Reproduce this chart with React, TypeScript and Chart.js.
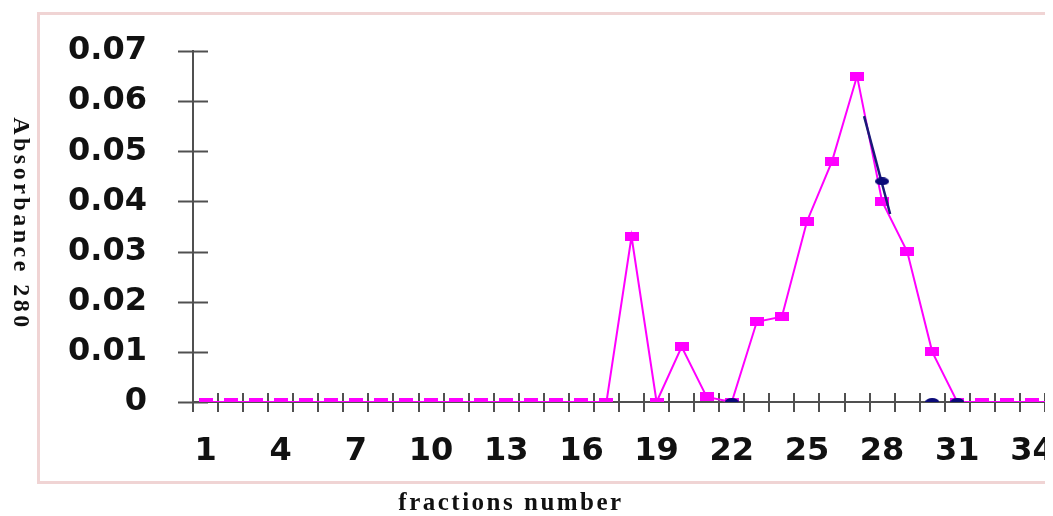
import React, { useEffect, useRef } from "react";
import { Chart, registerables } from "chart.js";

Chart.register(...registerables);

const fractions = [1, 2, 3, 4, 5, 6, 7, 8, 9, 10, 11, 12, 13, 14, 15, 16, 17, 18, 19, 20, 21, 22, 23, 24, 25, 26, 27, 28, 29, 30, 31, 32, 33, 34, 35];
const absorbance = [0, 0, 0, 0, 0, 0, 0, 0, 0, 0, 0, 0, 0, 0, 0, 0, 0, 0.033, 0, 0.011, 0.001, 0, 0.016, 0.017, 0.036, 0.048, 0.065, 0.04, 0.03, 0.01, 0, 0, 0, 0, 0];

const blueMarkerFractions = [22, 28, 30, 31];
const blueMarkerValues = [0, 0.044, 0, 0];
const blueSegmentFractions = [27.28, 28.32];
const blueSegmentValues = [0.057, 0.0375];

const xTickLabels = [1, 4, 7, 10, 13, 16, 19, 22, 25, 28, 31, 34];
const yTickValues = [0, 0.01, 0.02, 0.03, 0.04, 0.05, 0.06, 0.07];

const xTitle = "fractions number";
const yTitle = "Absorbance 280";

const AXIS_COLOR = "#505050";

function makeRect(w: number, h: number, color: string) {
  const c = document.createElement("canvas");
  c.width = w;
  c.height = h;
  const g = c.getContext("2d")!;
  g.fillStyle = color;
  g.fillRect(0, 0, w, h);
  return c;
}

function makeEllipse(w: number, h: number, color: string) {
  const c = document.createElement("canvas");
  c.width = w;
  c.height = h;
  const g = c.getContext("2d")!;
  g.fillStyle = color;
  g.beginPath();
  g.ellipse(w / 2, h / 2, w / 2, h / 2, 0, 0, Math.PI * 2);
  g.fill();
  return c;
}

const crossTicks = {
  id: "crossTicks",
  beforeDatasetsDraw(chart: any) {
    const { ctx, chartArea, scales } = chart;
    const xs = scales.x;
    const ys = scales.y;
    ctx.save();
    ctx.strokeStyle = AXIS_COLOR;
    ctx.lineWidth = 2;
    yTickValues.forEach((v) => {
      const py = Math.round(ys.getPixelForValue(v)) + 0.5;
      ctx.beginPath();
      ctx.moveTo(chartArea.left - 15, py);
      ctx.lineTo(chartArea.left + 15, py);
      ctx.stroke();
    });
    const bounds = [fractions[0] - 0.5, ...fractions.map((f) => f + 0.5)];
    bounds.forEach((b) => {
      const px = Math.round(xs.getPixelForValue(b));
      if (px > chartArea.right) return;
      ctx.beginPath();
      ctx.moveTo(px, chartArea.bottom - 9);
      ctx.lineTo(px, chartArea.bottom + 10);
      ctx.stroke();
    });
    ctx.restore();
  },
};

const decorations = {
  id: "decorations",
  afterDraw(chart: any) {
    const { ctx, width, height } = chart;
    ctx.save();
    const frameRight = width - 3;
    ctx.fillStyle = "#ffffff";
    ctx.fillRect(frameRight, 0, width - frameRight, height);
    ctx.strokeStyle = "#f0d4d4";
    ctx.lineWidth = 3;
    ctx.strokeRect(30.5, 5.5, frameRight - 32, 469);

    ctx.fillStyle = "#111111";
    ctx.save();
    ctx.translate(12, 216);
    ctx.rotate(Math.PI / 2);
    ctx.font = 'bold 24px "Liberation Serif"';
    (ctx as any).letterSpacing = "3.5px";
    ctx.textAlign = "center";
    ctx.textBaseline = "middle";
    ctx.fillText(yTitle, 0, 0);
    ctx.restore();

    ctx.font = 'bold 25px "Liberation Serif"';
    (ctx as any).letterSpacing = "2.5px";
    ctx.textAlign = "center";
    ctx.textBaseline = "alphabetic";
    ctx.fillText(xTitle, 503, 502);
    ctx.restore();
  },
};

export default function App() {
  const ref = useRef<HTMLCanvasElement | null>(null);

  useEffect(() => {
    document.documentElement.style.overflow = "hidden";
    const canvas = ref.current!;
    const rectMarker = makeRect(14, 9, "#ff00ff");
    const blueMarker = makeEllipse(14, 8, "#0a0a78");

    const chart = new Chart(canvas, {
      type: "scatter",
      data: {
        datasets: [
          {
            label: "blue markers",
            data: blueMarkerFractions.map((x, i) => ({ x, y: blueMarkerValues[i] })),
            showLine: false,
            pointStyle: blueMarker as any,
            pointRadius: 5,
            borderColor: "#0a0a78",
            backgroundColor: "#0a0a78",
          },
          {
            label: "blue segment",
            data: blueSegmentFractions.map((x, i) => ({ x, y: blueSegmentValues[i] })),
            showLine: true,
            pointRadius: 0,
            borderColor: "#1a1a78",
            borderWidth: 2.5,
          },
          {
            label: "absorbance",
            data: fractions.map((x, i) => ({ x, y: absorbance[i] })),
            showLine: true,
            borderColor: "#ff00ff",
            backgroundColor: "#ff00ff",
            borderWidth: 2,
            pointStyle: rectMarker as any,
            pointRadius: 5,
          },
        ],
      },
      options: {
        animation: false,
        responsive: false,
        events: [],
        layout: { padding: { top: 43, left: 0, right: 0, bottom: 0 } },
        plugins: {
          legend: { display: false },
          tooltip: { enabled: false },
        },
        scales: {
          x: {
            type: "linear",
            min: 0.5,
            max: 34.54,
            afterBuildTicks: (axis: any) => {
              axis.ticks = xTickLabels.map((v) => ({ value: v }));
            },
            afterFit: (axis: any) => {
              axis.height = 114;
              axis.paddingLeft = 0;
              axis.paddingRight = 0;
            },
            grid: { display: false, drawTicks: false },
            border: { display: true, color: AXIS_COLOR, width: 2 },
            ticks: {
              autoSkip: false,
              maxRotation: 0,
              padding: 30,
              color: "#111111",
              font: { family: '"DejaVu Sans"', weight: "bold", size: 32 },
              callback: (v: any) => String(v),
            },
          },
          y: {
            type: "linear",
            min: 0,
            max: 0.07,
            afterBuildTicks: (axis: any) => {
              axis.ticks = yTickValues.map((v) => ({ value: v }));
            },
            afterFit: (axis: any) => {
              axis.width = 185;
              axis.paddingTop = 0;
              axis.paddingBottom = 0;
            },
            grid: { display: false, drawTicks: false },
            border: { display: true, color: AXIS_COLOR, width: 2 },
            ticks: {
              padding: 46,
              color: "#111111",
              font: { family: '"DejaVu Sans"', weight: "bold", size: 32 },
              callback: (v: any) => (Number(v) === 0 ? "0" : Number(v).toFixed(2)),
            },
          },
        },
      },
      plugins: [crossTicks, decorations],
    });
    return () => chart.destroy();
  }, []);

  return (
    <div style={{ width: 1045, height: 508, overflow: "hidden", background: "#ffffff" }}>
      <canvas ref={ref} width={1045} height={508} />
    </div>
  );
}
